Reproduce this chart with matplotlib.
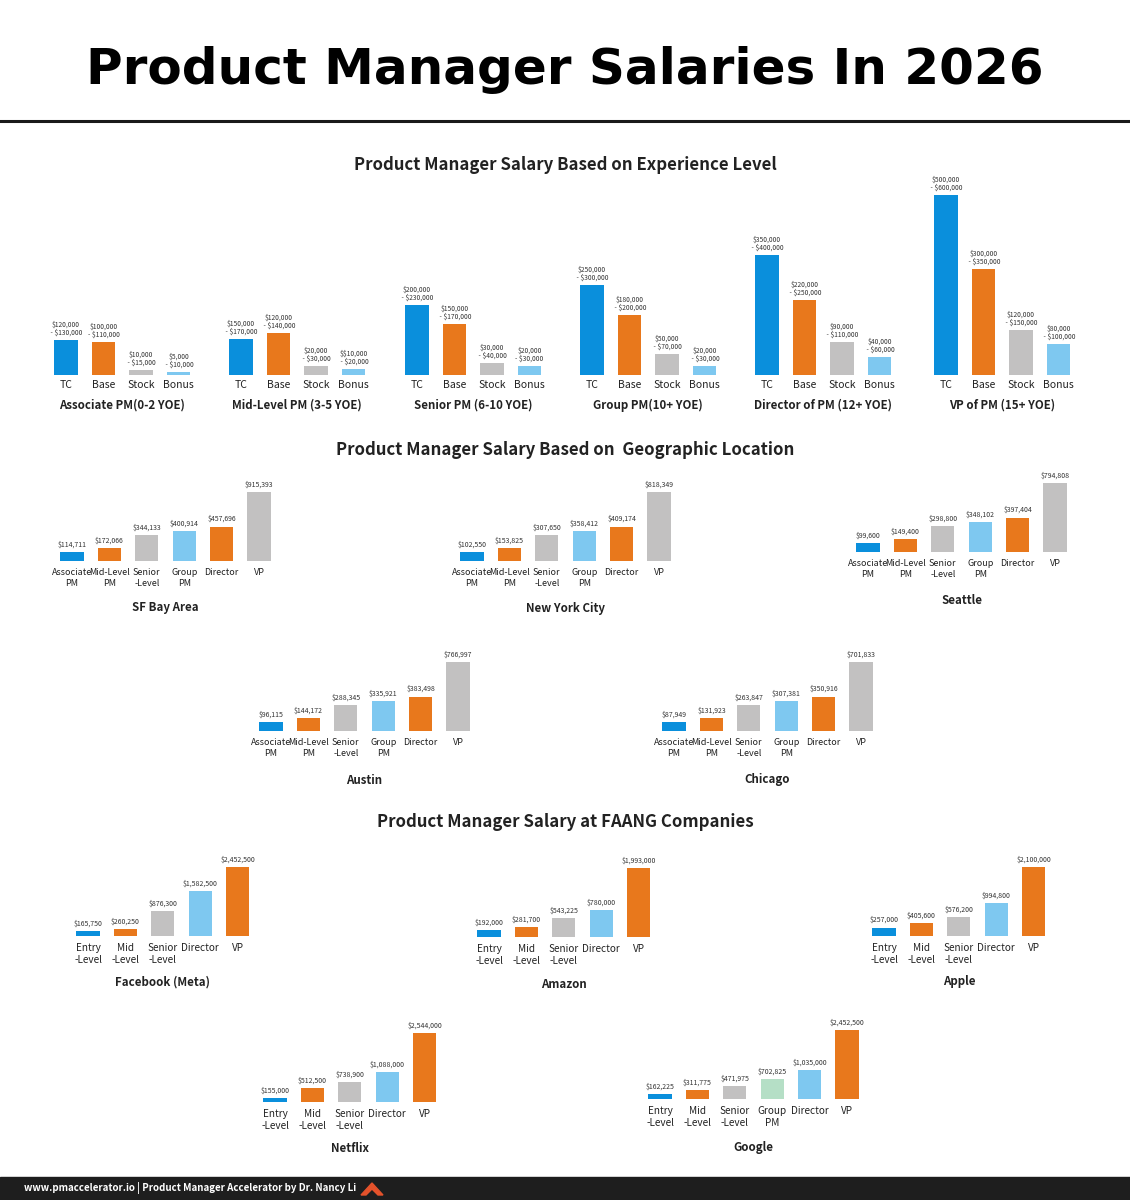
import numpy as np
import matplotlib
matplotlib.use("Agg")
from matplotlib import pyplot as plt
from matplotlib.lines import Line2D
from matplotlib.patches import Polygon, Rectangle

plt.rcParams['text.parse_math'] = False
plt.rcParams['font.family'] = ['Noto Sans CJK SC', 'DejaVu Sans']

# ---- data ----
exp_levels = ["Associate PM(0-2 YOE)", "Mid-Level PM (3-5 YOE)", "Senior PM (6-10 YOE)",
              "Group PM(10+ YOE)", "Director of PM (12+ YOE)", "VP of PM (15+ YOE)"]
exp_parts = ["TC", "Base", "Stock", "Bonus"]
exp_ranges = [
    ["$120,000\n - $130,000", "$100,000\n- $110,000", "$10,000\n - $15,000", "$5,000\n - $10,000"],
    ["$150,000\n - $170,000", "$120,000\n - $140,000", "$20,000\n - $30,000", "$$10,000\n - $20,000"],
    ["$200,000\n - $230,000", "$150,000\n - $170,000", "$30,000\n - $40,000", "$20,000\n- $30,000"],
    ["$250,000\n - $300,000", "$180,000\n - $200,000", "$50,000\n - $70,000", "$20,000\n - $30,000"],
    ["$350,000\n - $400,000", "$220,000\n - $250,000", "$90,000\n - $110,000", "$40,000\n - $60,000"],
    ["$500,000\n - $600,000", "$300,000\n - $350,000", "$120,000\n - $150,000", "$80,000\n - $100,000"],
]
# bar heights as drawn (thousands of $)
exp_heights = [
    [116, 111, 17, 11],
    [121, 141, 30, 21],
    [232, 171, 41, 30],
    [300, 200, 71, 30],
    [400, 250, 111, 61],
    [600, 352, 151, 102],
]

geo_levels = ["Associate\nPM", "Mid-Level\nPM", "Senior\n-Level", "Group\nPM", "Director", "VP"]
sf_bay = [114711, 172066, 344133, 400914, 457696, 915393]
new_york = [102550, 153825, 307650, 358412, 409174, 818349]
seattle = [99600, 149400, 298800, 348102, 397404, 794808]
austin = [96115, 144172, 288345, 335921, 383498, 766997]
chicago = [87949, 131923, 263847, 307381, 350916, 701833]

faang_levels = ["Entry\n-Level", "Mid\n-Level", "Senior\n-Level", "Director", "VP"]
google_levels = ["Entry\n-Level", "Mid\n-Level", "Senior\n-Level", "Group\nPM", "Director", "VP"]
facebook = [165750, 260250, 876300, 1582500, 2452500]
amazon = [192000, 281700, 543225, 780000, 1993000]
apple = [257000, 405600, 576200, 994800, 2100000]
netflix = [155000, 512500, 738900, 1088000, 2544000]
google = [162225, 311775, 471975, 702825, 1035000, 2452500]

BLUE = '#0a8fdc'
ORANGE = '#e8781c'
GRAY = '#c2c1c1'
LBLUE = '#7ec8f0'
MINT = '#b5dfc6'
TXT = '#222222'

W, H = 1130, 1200
fig = plt.figure(figsize=(W / 100, H / 100), dpi=100)
fig.patch.set_facecolor('white')


def fy(y):
    return 1 - y / H


def bar_panel(values, labels, colors, cx0, base_y, top_px, vmax, texts,
              step=37.4, fs=6.5, pad=5, vfs=5.0):
    n = len(values)
    ax = fig.add_axes([(cx0 - step / 2) / W, fy(base_y), n * step / W, top_px / H])
    x = np.arange(n)
    ax.bar(x, values, width=0.62, color=colors)
    ax.set_xlim(-0.5, n - 0.5)
    ax.set_ylim(0, vmax)
    for s in ax.spines.values():
        s.set_visible(False)
    ax.set_yticks([])
    ax.set_xticks(x)
    ax.set_xticklabels(labels, fontsize=fs, color=TXT, linespacing=1.25)
    ax.tick_params(axis='x', length=0, pad=pad)
    ax.patch.set_alpha(0)
    for xi, v, t in zip(x, values, texts):
        ax.annotate(t, (xi, v), xytext=(0, 2.5), textcoords='offset points',
                    ha='center', va='bottom', fontsize=vfs, color='#333333',
                    linespacing=1.0, annotation_clip=False)
    return ax


# ---- title + rule ----
fig.text(0.5, fy(70), "Product Manager Salaries In 2026", ha='center', va='center',
         fontsize=36, fontweight='bold', family='DejaVu Sans', color='black')
fig.add_artist(Line2D([0, 1], [fy(121), fy(121)], color='#1a1a1a', lw=2.2))

# ---- experience level ----
fig.text(0.5, fy(165), "Product Manager Salary Based on Experience Level", ha='center',
         va='center', fontsize=12.1, fontweight='bold', color=TXT)
exp_colors = [BLUE, ORANGE, GRAY, LBLUE]
exp_x0 = [66, 241, 417, 592, 767, 946]
for lvl, hts, rng, cx in zip(exp_levels, exp_heights, exp_ranges, exp_x0):
    bar_panel(hts, exp_parts, exp_colors, cx, 375, 200, 200 / 0.30, rng,
              step=37.5, fs=7.5, pad=3.5, vfs=4.8)
    fig.text((cx + 1.5 * 37.5) / W, fy(405), lvl, ha='center', va='center',
             fontsize=8.3, fontweight='bold', color=TXT)

# ---- geographic ----
fig.text(0.5, fy(450), "Product Manager Salary Based on  Geographic Location", ha='center',
         va='center', fontsize=12.1, fontweight='bold', color=TXT)
geo_colors = [BLUE, ORANGE, GRAY, LBLUE, ORANGE, GRAY]
geo_panels = [
    ("SF Bay Area", sf_bay, 72, 561, 608),
    ("New York City", new_york, 472, 561, 609),
    ("Seattle", seattle, 868, 552, 601),
    ("Austin", austin, 271, 731, 780),
    ("Chicago", chicago, 674, 731, 779),
]
for name, vals, cx, by, ny in geo_panels:
    vmax = max(vals) * 100 / 69
    bar_panel(vals, geo_levels, geo_colors, cx, by, 100, vmax,
              ["${:,}".format(v) for v in vals])
    fig.text((cx + 2.5 * 37.4) / W, fy(ny), name, ha='center', va='center',
             fontsize=8.3, fontweight='bold', color=TXT)

# ---- FAANG ----
fig.text(0.5, fy(822), "Product Manager Salary at FAANG Companies", ha='center',
         va='center', fontsize=12.1, fontweight='bold', color=TXT)
faang_colors = [BLUE, ORANGE, GRAY, LBLUE, ORANGE]
google_colors = [BLUE, ORANGE, GRAY, MINT, LBLUE, ORANGE]
faang_panels = [
    ("Facebook (Meta)", facebook, faang_levels, faang_colors, 88, 936, 982),
    ("Amazon", amazon, faang_levels, faang_colors, 489, 937, 984),
    ("Apple", apple, faang_levels, faang_colors, 884, 936, 982),
    ("Netflix", netflix, faang_levels, faang_colors, 275, 1102, 1149),
    ("Google", google, google_levels, google_colors, 660, 1099, 1147),
]
for name, vals, lvls, cols, cx, by, ny in faang_panels:
    vmax = max(vals) * 100 / 69
    bar_panel(vals, lvls, cols, cx, by, 100, vmax,
              ["${:,}".format(v) for v in vals], fs=7.2)
    fig.text((cx + (len(vals) - 1) / 2 * 37.4) / W, fy(ny), name, ha='center',
             va='center', fontsize=8.3, fontweight='bold', color=TXT)

# ---- footer ----
fig.add_artist(Rectangle((0, 0), 1, 23 / H, transform=fig.transFigure,
                         color='#1e1e1e', zorder=0))
fig.text(24 / W, fy(1188), "www.pmaccelerator.io | Product Manager Accelerator by Dr. Nancy Li",
         ha='left', va='center', fontsize=7, fontweight='bold', color='white')
logo = [(361, 1195), (372, 1183), (383, 1195), (378, 1195), (372, 1189), (366, 1195)]
fig.add_artist(Polygon([(px / W, fy(py)) for px, py in logo], closed=True,
                       transform=fig.transFigure, color='#e4522b'))

fig.savefig("out.png", dpi=100, facecolor='white')
